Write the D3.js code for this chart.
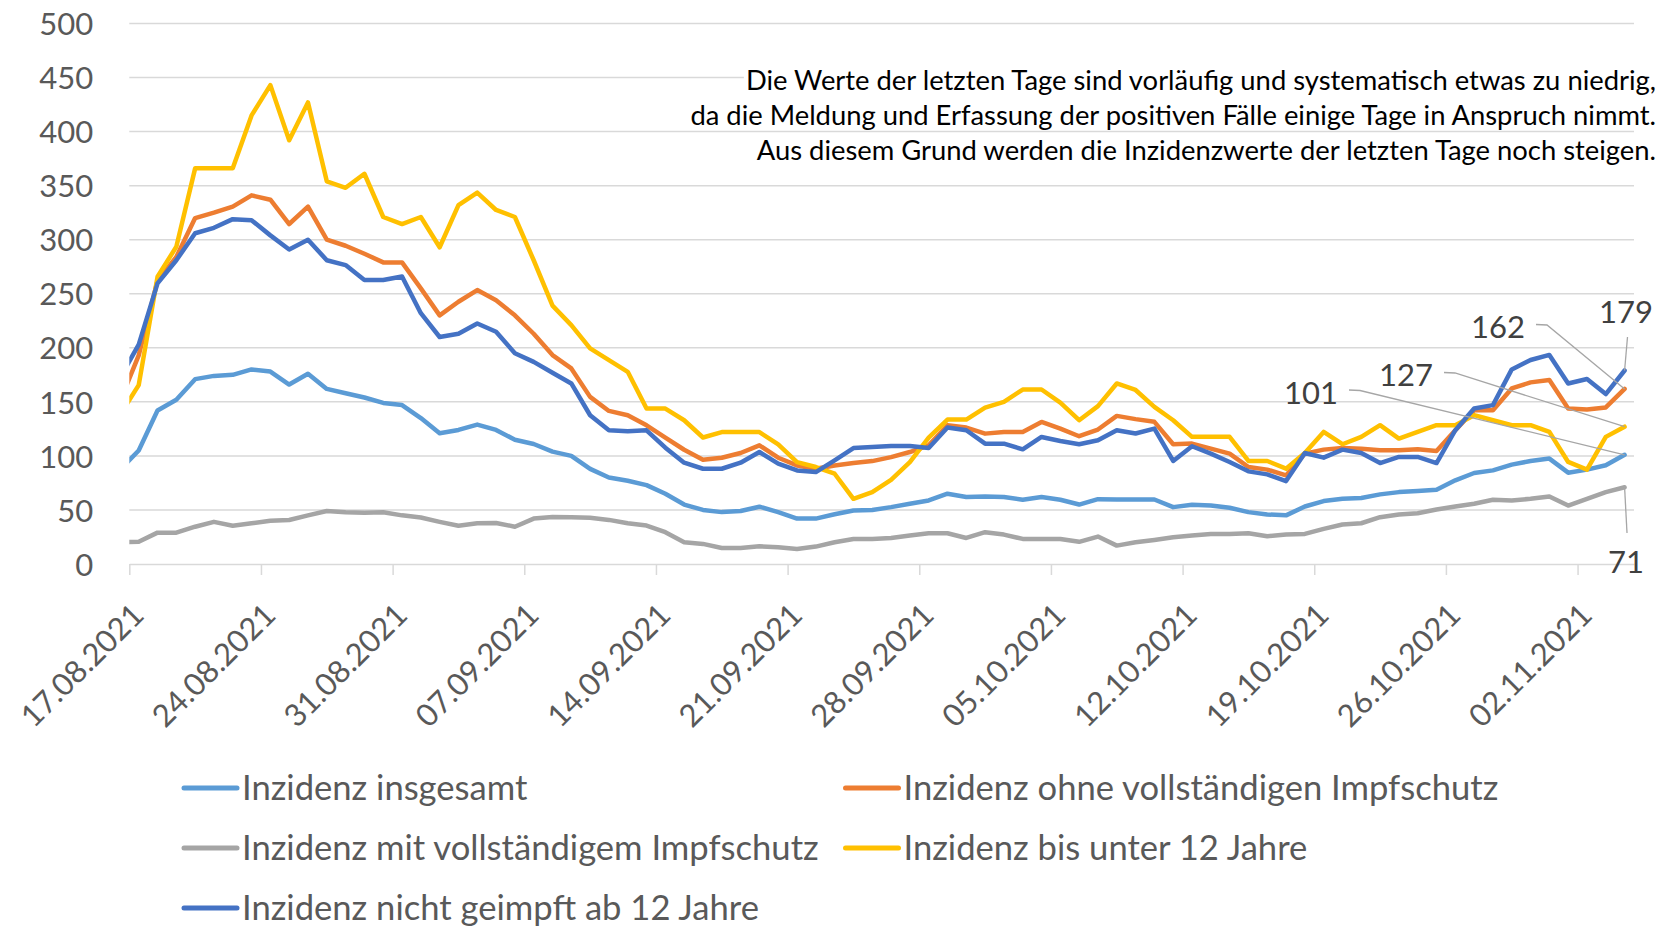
<!DOCTYPE html>
<html>
<head>
<meta charset="utf-8">
<style>
  body { margin: 0; background: #fff; }
  svg { display: block; font-family: Lato, "Open Sans", sans-serif; }
</style>
</head>
<body>
<svg id="chart"></svg>
<script src="https://d3js.org/d3.v7.min.js"></script>
<script>
let width = 1662,
  height = 928;

// one value per day, 16.08.2021 .. 04.11.2021 (the first day lies left of the axis and is clipped)
let dates = d3.timeDay.range(new Date(2021, 7, 16), new Date(2021, 10, 5));

let tickLabels = [
  "17.08.2021", "24.08.2021", "31.08.2021", "07.09.2021", "14.09.2021", "21.09.2021",
  "28.09.2021", "05.10.2021", "12.10.2021", "19.10.2021", "26.10.2021", "02.11.2021",
];
let yTicks = [0, 50, 100, 150, 200, 250, 300, 350, 400, 450, 500];

let insgesamt = [87, 105, 142, 152, 171, 174, 175, 180, 178, 166, 176, 162, 158, 154, 149, 147, 135, 121, 124, 129, 124, 115, 111, 104, 100, 88, 80, 77, 73, 65, 55, 50, 48, 49, 53, 48, 42, 42, 46, 49.5, 50, 52.6, 55.7, 58.8, 65, 62, 62.5, 62, 59.4, 62, 59.4, 55, 60, 59.7, 59.7, 59.7, 52.6, 54.8, 54.1, 52, 48, 45.8, 45, 53.2, 58.2, 60.3, 61, 64.4, 66.5, 67.5, 68.7, 77.4, 84.2, 86.6, 91.9, 95.3, 97.5, 84.5, 87.3, 91.3, 101];
let ohneImpfschutz = [150, 193, 262, 284, 320, 325, 330.6, 341, 337, 314.5, 330.6, 300, 294.4, 287, 279, 279, 255, 230, 242.6, 253.4, 244, 230, 213, 193.3, 180.9, 154.6, 141.6, 137.6, 128.3, 116.9, 105.7, 96.5, 98.3, 102.7, 109.8, 98.3, 91.2, 88.1, 91.2, 93.4, 95.2, 98.9, 103.6, 109.8, 128.3, 126.2, 120.6, 122.1, 122.1, 131.4, 125.2, 118.2, 124.4, 137, 134, 131.5, 110.8, 111.4, 106.7, 102.1, 89.7, 87.3, 82, 102.1, 105.8, 107.4, 106.7, 105.2, 105.2, 106.1, 104.6, 123.8, 142.3, 142.3, 162.4, 168, 170.2, 143.9, 143, 144.8, 162];
let mitImpfschutz = [20, 20.6, 29, 29, 34.5, 39, 35.4, 37.6, 40, 40.7, 45, 49, 47.8, 47.5, 47.8, 45, 43, 39, 35.4, 37.6, 38, 34.5, 42, 43.5, 43.3, 42.7, 40.8, 37.7, 35.6, 29.4, 20.1, 18.6, 14.8, 14.8, 16.4, 15.5, 13.9, 16.1, 20.1, 23.2, 23.2, 24.1, 26.3, 28.4, 28.4, 24.1, 29.4, 27.2, 23.2, 23.2, 23.2, 20.5, 25.4, 17, 20.1, 22.3, 24.8, 26.3, 27.8, 27.8, 28.5, 25.7, 27.2, 27.8, 32.5, 36.5, 37.7, 43.3, 45.8, 47, 50.4, 53.2, 55.7, 59.4, 58.8, 60.3, 62.5, 54.1, 60.3, 66.5, 71];
let unter12 = [138, 165.5, 265.7, 293.5, 366, 366, 366, 415, 443, 392, 427, 354, 348, 361, 321, 314.5, 321, 293, 332, 343.5, 327.5, 321, 281, 239, 221, 199.4, 188.6, 177.8, 143.8, 143.8, 133, 117, 122, 122, 122, 110.7, 94.3, 89.7, 83.5, 60.3, 66.5, 77.9, 94.3, 117, 133.6, 133.6, 144.7, 150, 161.4, 161.4, 149.3, 133, 146, 167, 161, 145.4, 133, 117.6, 117.6, 117.6, 95.3, 95.3, 88.2, 102.7, 122.2, 110.8, 117.6, 128.4, 116, 122.2, 128.4, 128.4, 137.7, 133, 128.4, 128.4, 122.2, 94.4, 87.3, 117.6, 127];
let nichtGeimpft = [172, 203, 259.6, 281, 306, 311, 319, 318, 304, 291, 300, 281, 276.5, 262.7, 262.7, 266, 232, 210, 213, 222.5, 214.8, 195, 187, 176.9, 167, 137.6, 123.7, 122.8, 123.7, 107.6, 93.7, 88.1, 88.1, 93.7, 103.6, 92.8, 86.6, 85, 95.9, 107.3, 108.2, 109.2, 109.2, 107.3, 126.2, 123.7, 111.3, 111.3, 106.1, 117.5, 113.8, 110.8, 114.5, 123.8, 120.7, 125.3, 95.3, 108.9, 102.1, 94.4, 85.7, 82.9, 76.7, 102.7, 98.4, 105.8, 102.7, 93.4, 99, 99, 93.4, 123.8, 143.9, 147, 180, 188.7, 193.4, 167, 171.1, 157.2, 179];

let notes = [
  "Die Werte der letzten Tage sind vorläufig und systematisch etwas zu niedrig,",
  "da die Meldung und Erfassung der positiven Fälle einige Tage in Anspruch nimmt.",
  "Aus diesem Grund werden die Inzidenzwerte der letzten Tage noch steigen.",
];

// series in Excel drawing order (last one on top), also legend order
let series = [
  { name: "Inzidenz insgesamt", values: insgesamt, color: "#5B9BD5",
    label: { x: 1311, y: 404, leader: [[1349, 390], [1360, 390.5]] } },
  { name: "Inzidenz ohne vollständigen Impfschutz", values: ohneImpfschutz, color: "#ED7D31",
    label: { x: 1498, y: 338, leader: [[1536, 324.5], [1547, 325]] } },
  { name: "Inzidenz mit vollständigem Impfschutz", values: mitImpfschutz, color: "#A5A5A5",
    label: { x: 1626, y: 573, leader: [[1627, 533]] } },
  { name: "Inzidenz bis unter 12 Jahre", values: unter12, color: "#FFC000",
    label: { x: 1406, y: 386, leader: [[1444, 372.5], [1455, 373]] } },
  { name: "Inzidenz nicht geimpft ab 12 Jahre", values: nichtGeimpft, color: "#4472C4",
    label: { x: 1626, y: 323, leader: [[1627.5, 337]] } },
];

let svg = d3.select("#chart").attr("width", width).attr("height", height);
svg.append("rect").attr("width", width).attr("height", height).attr("fill", "#fff");

// pick font sizes so that Lato takes the same room as the original Calibri
function fitFont(text, target) {
  let t = svg.append("text").attr("font-size", 100).text(text);
  let w = t.node().getComputedTextLength();
  t.remove();
  return (100 * target) / w;
}
let axisFont = fitFont("500", 54);
let legendFont = fitFont("Inzidenz ohne vollständigen Impfschutz", 595);
let noteFont = fitFont(notes[1], 966);

let plotLeft = 129.3,
  plotRight = 1634,
  plotTop = 23.5,
  plotBottom = 564;

let parseDate = d3.timeParse("%d.%m.%Y");
let x = d3.scaleTime().domain([new Date(2021, 7, 17), new Date(2021, 10, 5)]).range([plotLeft, plotRight]);
let y = d3.scaleLinear().domain([0, 500]).range([plotBottom, plotTop]);
// points sit in the middle of their day
let px = (d) => x(d3.timeHour.offset(d, 12));

svg.append("defs").append("clipPath").attr("id", "plot")
  .append("rect").attr("x", plotLeft).attr("y", 0)
  .attr("width", plotRight - plotLeft).attr("height", plotBottom + 10);

// gridlines
svg.append("g").attr("id", "grid")
  .selectAll("line")
  .data(yTicks.filter((v) => v > 0))
  .join("line")
  .attr("x1", plotLeft).attr("x2", plotRight)
  .attr("y1", (d) => y(d)).attr("y2", (d) => y(d))
  .attr("stroke", "#d9d9d9").attr("stroke-width", 1.5);

// y axis labels
let yAxis = svg.append("g").attr("transform", `translate(${plotLeft},0)`)
  .call(d3.axisLeft(y).tickValues(yTicks).tickSize(0).tickPadding(36));
yAxis.select(".domain").remove();
yAxis.selectAll("text")
  .attr("font-family", "Lato").attr("font-size", axisFont).attr("fill", "#595959")
  .attr("dy", "0.36em");

// x axis
let xAxis = svg.append("g").attr("transform", `translate(0,${plotBottom})`)
  .call(d3.axisBottom(x)
    .tickValues(tickLabels.map(parseDate))
    .tickFormat((d, i) => tickLabels[i])
    .tickSize(11).tickSizeOuter(0));
xAxis.select(".domain").attr("stroke", "#d9d9d9").attr("stroke-width", 1.5);
xAxis.selectAll(".tick line").attr("stroke", "#d9d9d9").attr("stroke-width", 1.5);
xAxis.selectAll(".tick text")
  .attr("font-family", "Lato").attr("font-size", axisFont).attr("fill", "#595959")
  .attr("x", 0).attr("y", 0).attr("dy", 0)
  .attr("text-anchor", "end")
  .attr("transform", "translate(16,53) rotate(-45)");

// lines
let line = d3.line().x((d, i) => px(dates[i])).y((d) => y(d));
svg.append("g").attr("id", "lines").attr("clip-path", "url(#plot)")
  .selectAll("path")
  .data(series)
  .join("path")
  .attr("d", (s) => line(s.values))
  .attr("fill", "none")
  .attr("stroke", (s) => s.color)
  .attr("stroke-width", 4.5)
  .attr("stroke-linejoin", "round")
  .attr("stroke-linecap", "round");

// data labels for the last day
let last = dates.length - 1;
let labels = svg.append("g").attr("id", "labels");
labels.selectAll("path")
  .data(series)
  .join("path")
  .attr("d", (s) => d3.line()([...s.label.leader, [px(dates[last]), y(s.values[last])]]))
  .attr("fill", "none")
  .attr("stroke", "#a6a6a6")
  .attr("stroke-width", 1.3);
labels.selectAll("text")
  .data(series)
  .join("text")
  .attr("x", (s) => s.label.x)
  .attr("y", (s) => s.label.y)
  .attr("text-anchor", "middle")
  .attr("font-size", axisFont)
  .attr("fill", "#404040")
  .text((s) => Math.round(s.values[last]));

// note in the upper right corner
let noteBaselines = [90, 125, 160];
let note = svg.append("g").attr("id", "note");
note.selectAll("text")
  .data(notes)
  .join("text")
  .attr("x", 1656)
  .attr("y", (d, i) => noteBaselines[i])
  .attr("text-anchor", "end")
  .attr("font-size", noteFont)
  .attr("fill", "#000")
  .text((d) => d)
  .each(function (d, i) {
    let w = this.getComputedTextLength();
    note.insert("rect", "text")
      .attr("x", 1656 - w - 2)
      .attr("y", noteBaselines[i] - 0.74 * noteFont)
      .attr("width", w + 4)
      .attr("height", 0.9 * noteFont)
      .attr("fill", "#fff");
  });

// legend
let legendX = [182, 843.5],
  legendY = [788, 848, 908];
let legend = svg.append("g").attr("id", "legend")
  .selectAll("g")
  .data(series)
  .join("g")
  .attr("transform", (s, i) => `translate(${legendX[i % 2]},${legendY[Math.floor(i / 2)]})`);
legend.append("line")
  .attr("x1", 2).attr("x2", 55)
  .attr("stroke", (s) => s.color)
  .attr("stroke-width", 5)
  .attr("stroke-linecap", "round");
legend.append("text")
  .attr("x", 60)
  .attr("dy", "0.36em")
  .attr("font-size", legendFont)
  .attr("fill", "#595959")
  .text((s) => s.name);
</script>
</body>
</html>
